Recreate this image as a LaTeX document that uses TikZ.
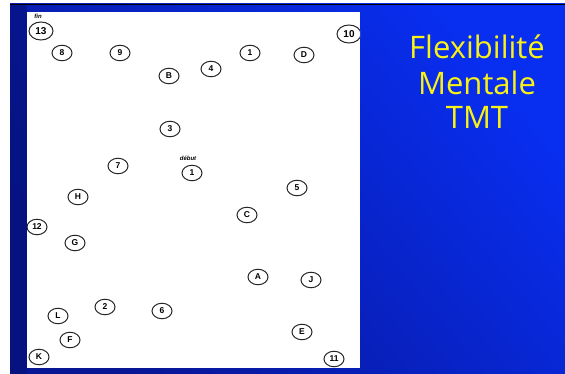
\documentclass[tikz,border=0pt]{standalone}
\usepackage{fontspec}
\setsansfont{Liberation Sans}
\newfontfamily\titlefont{Open Sans}
\usetikzlibrary{shapes.geometric}
\definecolor{slidedark}{RGB}{8,22,150}
\definecolor{slidebright}{RGB}{8,46,240}
\definecolor{titleyellow}{RGB}{250,242,20}
\tikzset{
  tmt/.style={ellipse, draw=black!85, line width=1pt, minimum width=20pt, minimum height=15.5pt,
    inner sep=0pt, font=\sffamily\bfseries\fontsize{8.5}{8.5}\selectfont, fill=white},
  tmtbig/.style={tmt, minimum width=24pt, minimum height=18pt, font=\sffamily\bfseries\fontsize{10}{10}\selectfont},
  tag/.style={font=\sffamily\bfseries\itshape\fontsize{6}{6}\selectfont, inner sep=0pt},
  title/.style={font=\titlefont\fontsize{31}{31}\selectfont, text=titleyellow, inner sep=0pt}
}
\begin{document}
\begin{tikzpicture}[x=1pt,y=-1pt]
\useasboundingbox (0,0) rectangle (565,374);
\fill[white] (0,0) rectangle (565,374);
\shade[top color=slidebright, bottom color=slidedark, shading angle=-50] (10,4) rectangle (565,374);
\fill[slidedark!70!black, opacity=0.5] (10,4) rectangle (27,374);
\draw[black, line width=1.4pt] (10,4.5) -- (565,4.5);
\fill[white] (27,12) rectangle (360,368);
\begin{scope}
\clip (27,12) rectangle (360,368);
\node[tmtbig] (n13) at (41,31) {13};
\node[tmt] (n8) at (62,53) {8};
\node[tmt] (n9) at (120,53) {9};
\node[tmt] (nB) at (169,76) {B};
\node[tmt] (n4) at (211,69) {4};
\node[tmt] (n1) at (250,53) {1};
\node[tmt] (nD) at (304,55) {D};
\node[tmtbig] (n10) at (349,34) {10};
\node[tmt] (n3) at (170,129) {3};
\node[tmt] (n7) at (118,166) {7};
\node[tmt] (nstart) at (192,173) {1};
\node[tmt] (n5) at (297,188) {5};
\node[tmt] (nH) at (78,197) {H};
\node[tmt] (nC) at (247,215) {C};
\node[tmt] (n12) at (37,227) {12};
\node[tmt] (nG) at (75,243) {G};
\node[tmt] (nA) at (258,277) {A};
\node[tmt] (nJ) at (311,280) {J};
\node[tmt] (n2) at (105,307) {2};
\node[tmt] (n6) at (162,311) {6};
\node[tmt] (nL) at (58,316) {L};
\node[tmt] (nF) at (70,340) {F};
\node[tmt] (nE) at (302,332) {E};
\node[tmt] (nK) at (39,357) {K};
\node[tmt] (n11) at (334,359) {11};
\node[tag] (fin) at (38,16) {fin};
\node[tag] (debut) at (188,158) {début};
\end{scope}
\node[title] (t1) at (477,47) {Flexibilité};
\node[title] (t2) at (477,83) {Mentale};
\node[title] (t3) at (477,117) {TMT};
\end{tikzpicture}
\end{document}
